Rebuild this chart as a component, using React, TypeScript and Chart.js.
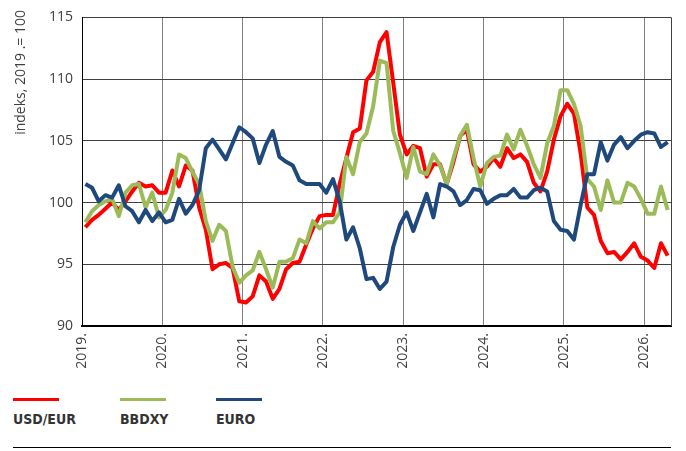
import React, { useEffect, useRef } from "react";
import { Chart, registerables } from "chart.js";

Chart.register(...registerables);

// ---- data (monthly, Jan 2019 – Apr 2026) ----
const startYear = 2019;
const yearTicks = [2019, 2020, 2021, 2022, 2023, 2024, 2025, 2026];

const usdEur = [
  98.0, 98.6, 99.0, 99.5, 100.0, 99.4, 100.1, 100.9, 101.6, 101.3, 101.4, 100.8,
  100.8, 102.6, 101.3, 103.0, 102.6, 99.6, 97.8, 94.6, 95.0, 95.1, 94.7, 92.0,
  91.9, 92.4, 94.1, 93.6, 92.2, 93.0, 94.6, 95.1, 95.2, 96.6, 97.9, 98.9,
  99.0, 99.0, 101.5, 103.6, 105.7, 106.0, 109.9, 110.6, 113.0, 113.8, 109.7, 105.5,
  103.9, 104.6, 104.4, 102.1, 103.1, 103.1, 101.5, 103.3, 105.4, 105.9, 103.1, 102.5,
  102.9, 103.6, 102.9, 104.4, 103.6, 103.9, 103.3, 101.6, 100.9, 102.5, 105.1, 107.0,
  108.0, 107.2, 104.0, 99.6, 99.0, 96.9, 95.9, 96.0, 95.4, 96.0, 96.7, 95.6,
  95.3, 94.7, 96.7, 95.7,
];

const bbdxy = [
  98.4, 99.3, 99.8, 100.1, 100.3, 98.9, 100.8, 101.4, 101.5, 99.6, 100.8, 98.8,
  99.4, 100.8, 103.9, 103.6, 102.5, 101.5, 98.5, 96.9, 98.2, 97.7, 94.8, 93.5,
  94.1, 94.5, 96.0, 94.6, 93.1, 95.2, 95.2, 95.5, 97.0, 96.7, 98.5, 97.9,
  98.4, 98.4, 99.2, 103.7, 102.3, 104.9, 105.6, 107.8, 111.5, 111.3, 105.8, 104.0,
  102.0, 104.5, 102.5, 102.3, 103.9, 103.0, 101.5, 103.6, 105.4, 106.3, 103.6, 101.3,
  103.2, 103.7, 103.8, 105.5, 104.3, 105.9, 104.6, 103.1, 102.0, 104.8, 106.2, 109.1,
  109.1, 108.0, 106.2, 101.9, 101.3, 99.4, 101.8, 100.0, 100.0, 101.6, 101.3, 100.3,
  99.1, 99.1, 101.3, 99.4,
];

const euro = [
  101.5, 101.2, 100.1, 100.6, 100.4, 101.4, 99.7, 99.3, 98.4, 99.4, 98.5, 99.2,
  98.4, 98.6, 100.3, 99.1, 99.8, 101.0, 104.4, 105.1, 104.3, 103.5, 104.8, 106.1,
  105.7, 105.2, 103.2, 104.7, 105.8, 103.7, 103.3, 103.0, 101.8, 101.5, 101.5, 101.5,
  100.8, 101.9, 100.1, 97.0, 98.0, 96.3, 93.8, 93.9, 93.0, 93.6, 96.4, 98.2,
  99.2, 97.7, 99.2, 100.7, 98.8, 101.5, 101.3, 100.9, 99.8, 100.2, 101.1, 101.0,
  99.9, 100.3, 100.6, 100.6, 101.1, 100.4, 100.4, 101.0, 101.2, 100.9, 98.5, 97.8,
  97.7, 97.0, 99.8, 102.3, 102.3, 104.9, 103.4, 104.7, 105.3, 104.4, 105.0, 105.5,
  105.7, 105.6, 104.5, 104.9,
];

const seriesNames = ["USD/EUR", "BBDXY", "EURO"];
const seriesData = [usdEur, bbdxy, euro];
const seriesColors = ["#ff0000", "#9bbb59", "#1f497d"];
const yTitle = "indeks, 2019 .= 100";

// ---- layout / style ----
const legendLeft = [13, 120, 216];
const FONT = "'Open Sans', 'Liberation Sans', sans-serif";
const LEGEND_FONT = "'DejaVu Sans Condensed', 'Liberation Sans Narrow', sans-serif";

const toPoints = (vals: number[]) =>
  vals.map((v, i) => ({ x: startYear + (i + 0.5) / 12, y: v }));

const framePlugin = {
  id: "frame",
  beforeDatasetsDraw(chart: any) {
    const { ctx, chartArea } = chart;
    const x = Math.round(chartArea.right) + 0.5;
    ctx.save();
    ctx.strokeStyle = "#404040";
    ctx.lineWidth = 1;
    ctx.beginPath();
    ctx.moveTo(x, chartArea.top);
    ctx.lineTo(x, chartArea.bottom);
    ctx.stroke();
    ctx.restore();
  },
  afterDraw(chart: any) {
    const { ctx } = chart;
    ctx.save();
    ctx.translate(21.5, 10);
    ctx.rotate(-Math.PI / 2);
    ctx.font = `14px ${FONT}`;
    ctx.fillStyle = "#404040";
    ctx.textAlign = "right";
    ctx.textBaseline = "middle";
    ctx.fillText(yTitle, 0, 0);
    ctx.restore();
  },
};

export default function App() {
  const ref = useRef<HTMLCanvasElement>(null);

  useEffect(() => {
    if (!ref.current) return;
    const chart = new Chart(ref.current, {
      type: "line",
      data: {
        datasets: seriesNames.map((name, k) => ({
          label: name,
          data: toPoints(seriesData[k]),
          borderColor: seriesColors[k],
          backgroundColor: seriesColors[k],
          borderWidth: 4,
          pointRadius: 0,
          tension: 0,
          borderJoinStyle: "round" as const,
          order: 2 - k,
        })),
      },
      options: {
        animation: false,
        responsive: false,
        events: [],
        layout: { padding: { top: 15, right: 15, left: 0, bottom: 0 } },
        plugins: {
          legend: { display: false },
          tooltip: { enabled: false },
        },
        scales: {
          x: {
            type: "linear",
            min: startYear,
            max: startYear + usdEur.length / 12,
            afterBuildTicks: (s: any) => {
              s.ticks = yearTicks.map((v) => ({ value: v }));
            },
            afterFit: (s: any) => {
              s.height = 54;
            },
            ticks: {
              autoSkip: false,
              minRotation: 90,
              maxRotation: 90,
              padding: 7,
              color: "#404040",
              font: { family: FONT, size: 14 },
              callback: (v: any) => `${v}.`,
            },
            grid: { color: "#7f7f7f", drawTicks: false, lineWidth: 1 },
            border: { display: true, color: "#000", width: 2 },
          },
          y: {
            min: 90,
            max: 115,
            afterFit: (s: any) => {
              s.width = 82;
            },
            ticks: {
              stepSize: 5,
              padding: 9,
              color: "#404040",
              font: { family: FONT, size: 14 },
            },
            grid: { color: "#404040", drawTicks: false, lineWidth: 1 },
            border: { display: true, color: "#000", width: 1 },
          },
        },
      },
      plugins: [framePlugin],
    } as any);
    return () => chart.destroy();
  }, []);

  return (
    <div
      style={{
        position: "absolute",
        left: 0,
        top: 0,
        width: 686,
        height: 451,
        background: "#fff",
        overflow: "hidden",
      }}
    >
      <canvas
        ref={ref}
        width={686}
        height={380}
        style={{ position: "absolute", left: 0, top: 0, width: 686, height: 380 }}
      />
      {seriesNames.map((name, k) => (
        <React.Fragment key={name}>
          <div
            style={{
              position: "absolute",
              left: legendLeft[k],
              top: 398,
              width: 46,
              height: 3,
              background: seriesColors[k],
            }}
          />
          <div
            style={{
              position: "absolute",
              left: legendLeft[k],
              top: 411,
              lineHeight: "16px",
              fontSize: 14,
              fontWeight: 700,
              fontFamily: LEGEND_FONT,
              color: "#333",
              whiteSpace: "nowrap",
            }}
          >
            {name}
          </div>
        </React.Fragment>
      ))}
      <div
        style={{
          position: "absolute",
          left: 13,
          top: 447,
          width: 658,
          height: 1,
          background: "#000",
        }}
      />
    </div>
  );
}
